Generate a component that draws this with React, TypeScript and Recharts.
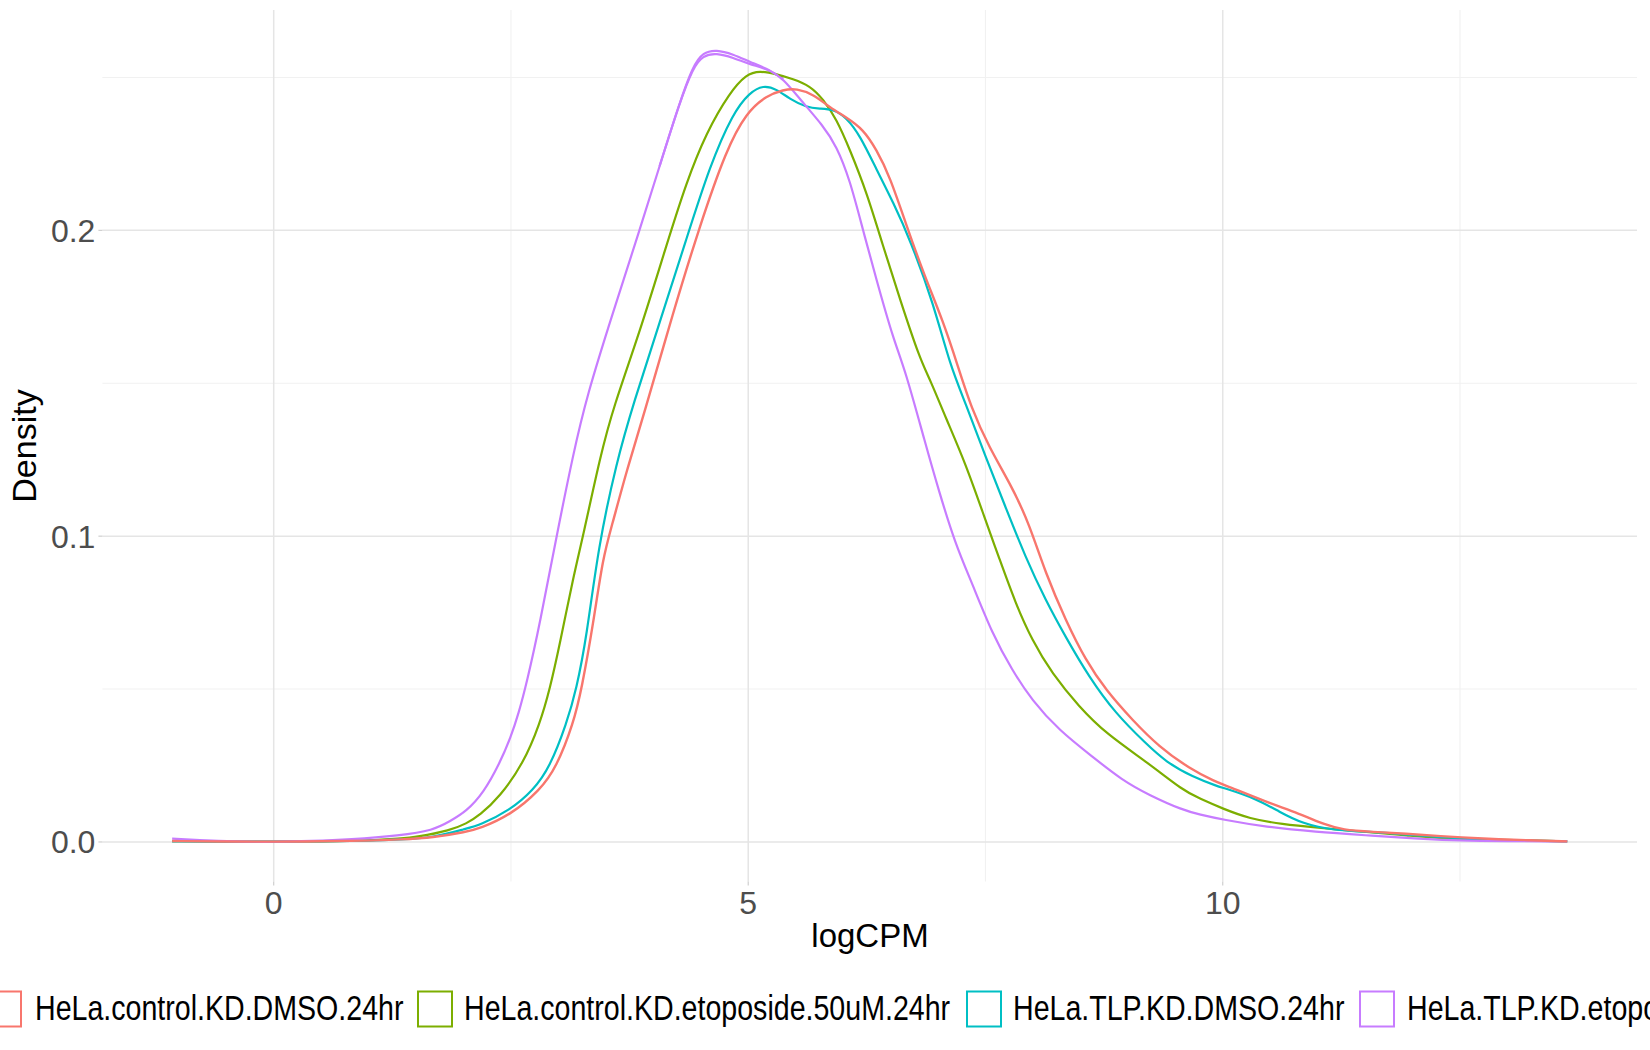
import React from 'react';
import { LineChart, Line, XAxis, YAxis, CartesianGrid } from 'recharts';

// ---------- data ----------
const seriesNames = [
  'HeLa.control.KD.DMSO.24hr',
  'HeLa.control.KD.etoposide.50uM.24hr',
  'HeLa.TLP.KD.DMSO.24hr',
  'HeLa.TLP.KD.etoposide.50uM.24hr',
];
const seriesColors = ['#F8766D', '#7CAE00', '#00BFC4', '#C77CFF'];

const xTicks = [0, 5, 10];
const yTicks = [0, 0.1, 0.2];
const xMinorTicks = [2.5, 7.5, 12.5];
const yMinorTicks = [0.05, 0.15, 0.25];

const xTitle = 'logCPM';
const yTitle = 'Density';

// [logCPM, density]
const controlDmso: [number, number][] = [
  [-1.07, 0.0003], [-0.5, 0.0001], [0, 0.0001], [0.5, 0.0002], [1.0, 0.0004],
  [1.33, 0.0008], [1.68, 0.0014], [2.03, 0.0033], [2.17, 0.0044], [2.49, 0.0087],
  [2.805, 0.0169], [2.98, 0.0245], [3.157, 0.0387], [3.245, 0.05], [3.367, 0.0714],
  [3.47, 0.0932], [3.56, 0.103], [3.72, 0.1216], [3.894, 0.139],
  [4.207, 0.173], [4.488, 0.2014], [4.77, 0.2265], [4.98, 0.2385], [5.19, 0.244],
  [5.37, 0.246], [5.51, 0.2464], [5.685, 0.2445], [5.86, 0.2402], [6.036, 0.2369],
  [6.21, 0.2331], [6.35, 0.2265], [6.49, 0.2178], [6.67, 0.2014], [6.845, 0.1861],
  [7.06, 0.1698], [7.21, 0.1555], [7.35, 0.142], [7.535, 0.1292], [7.78, 0.1161],
  [7.96, 0.1041], [8.134, 0.0878], [8.345, 0.0725], [8.556, 0.0594], [8.77, 0.0496],
  [9.05, 0.0398], [9.33, 0.0311], [9.65, 0.024], [9.93, 0.0196], [10.0, 0.0189],
  [10.456, 0.0131], [10.806, 0.0093], [11.087, 0.0055], [11.26, 0.004], [11.58, 0.0033],
  [11.93, 0.0027], [12.28, 0.0019], [12.73, 0.0011], [13.26, 0.0005], [13.63, 0.0002],
];

const controlEtoposide: [number, number][] = [
  [-1.07, 0.0003], [-0.5, 0.0001], [0, 0.0001], [0.5, 0.0002], [1.0, 0.0004],
  [1.33, 0.0011], [1.51, 0.0016], [1.86, 0.0038], [2.03, 0.006], [2.17, 0.0087],
  [2.38, 0.0147], [2.63, 0.0256], [2.805, 0.0387], [2.91, 0.05], [3.016, 0.0649],
  [3.157, 0.0867], [3.26, 0.1], [3.44, 0.126], [3.58, 0.1423],
  [3.855, 0.1665], [4.136, 0.1949], [4.347, 0.2156], [4.558, 0.232], [4.805, 0.2451],
  [4.98, 0.2511], [5.12, 0.2522], [5.3, 0.2511], [5.47, 0.2495], [5.65, 0.2473],
  [5.79, 0.2429], [5.93, 0.2364], [6.07, 0.2265], [6.25, 0.2123], [6.42, 0.1949],
  [6.6, 0.1774], [6.81, 0.1578], [6.92, 0.151], [7.077, 0.139], [7.29, 0.1238],
  [7.5, 0.1052], [7.64, 0.0932], [7.817, 0.078], [7.99, 0.066], [8.2, 0.0551],
  [8.486, 0.0442], [8.77, 0.0354], [9.225, 0.0256], [9.58, 0.0169], [9.755, 0.0142],
  [10.0, 0.0109], [10.28, 0.0076], [10.63, 0.0058], [10.98, 0.0047], [11.5, 0.0033],
  [11.93, 0.0022], [12.38, 0.0009], [12.91, 0.0008], [13.63, 0.0002],
];

const tlpDmso: [number, number][] = [
  [-1.07, 0.0002], [-0.5, 0.0001], [0, 0.0001], [0.5, 0.0002], [1.0, 0.0004],
  [1.33, 0.0008], [1.68, 0.0014], [2.03, 0.0044], [2.17, 0.0055], [2.49, 0.0104],
  [2.735, 0.0169], [2.91, 0.0245], [3.086, 0.0387], [3.19, 0.05], [3.297, 0.067],
  [3.42, 0.0965], [3.61, 0.124], [3.79, 0.1434], [4.066, 0.1698],
  [4.347, 0.197], [4.594, 0.221], [4.84, 0.2385], [5.016, 0.2451], [5.157, 0.2475],
  [5.3, 0.2462], [5.44, 0.2429], [5.614, 0.2402], [5.755, 0.2398], [5.895, 0.2396],
  [6.036, 0.2369], [6.18, 0.2309], [6.35, 0.22], [6.53, 0.209], [6.705, 0.197],
  [6.95, 0.1763], [7.13, 0.1555], [7.29, 0.1435], [7.5, 0.126], [7.71, 0.1096],
  [7.92, 0.0932], [8.134, 0.079], [8.345, 0.067], [8.59, 0.054], [8.87, 0.042],
  [9.19, 0.0322], [9.4, 0.0262], [9.68, 0.0213], [9.965, 0.018], [10.0, 0.0178],
  [10.35, 0.0142], [10.6, 0.0098], [10.84, 0.006], [11.16, 0.0038], [11.58, 0.0033],
  [12.03, 0.0022], [12.49, 0.0011], [13.0, 0.0005], [13.63, 0.0002],
];

const tlpEtoposide: [number, number][] = [
  [-1.07, 0.0011], [-0.8, 0.0006], [-0.4, 0.0001], [0, 0.0], [0.4, 0.0003],
  [0.8, 0.0008], [1.33, 0.0021], [1.68, 0.0038], [1.86, 0.0068], [2.03, 0.01],
  [2.21, 0.016], [2.38, 0.0256], [2.5, 0.0344], [2.58, 0.042], [2.665, 0.0518],
  [2.805, 0.0714], [2.98, 0.1], [3.157, 0.127], [3.297, 0.1456],
  [3.573, 0.173], [3.855, 0.2], [4.066, 0.221], [4.277, 0.2418], [4.418, 0.2538],
  [4.523, 0.2582], [4.664, 0.2591], [4.84, 0.2576], [5.016, 0.2551], [5.227, 0.2525],
  [5.37, 0.2495], [5.545, 0.2429], [5.79, 0.2342], [5.93, 0.2276], [6.07, 0.2167],
  [6.21, 0.2], [6.35, 0.184], [6.53, 0.1643], [6.655, 0.1543], [6.866, 0.1303],
  [7.007, 0.115], [7.18, 0.0976], [7.36, 0.0845], [7.57, 0.0682], [7.78, 0.0562],
  [7.99, 0.0463], [8.275, 0.0365], [8.63, 0.0278], [8.94, 0.0202], [9.225, 0.0153],
  [9.58, 0.0104], [9.755, 0.009], [10.0, 0.0073], [10.456, 0.0049], [10.98, 0.0033],
  [11.5, 0.0022], [12.03, 0.0011], [12.49, 0.0003], [13.63, 0.0002],
];

// a second, near-identical purple trace that separates only around the peak
const tlpEtoposidePeak: [number, number][] = [
  [4.066, 0.221], [4.277, 0.2418], [4.418, 0.2532], [4.523, 0.2572], [4.664, 0.258],
  [4.84, 0.2565], [5.016, 0.2543], [5.227, 0.2525], [5.37, 0.2495],
];

const seriesData = [controlEtoposide, tlpDmso, tlpEtoposide, controlDmso];
const seriesColorIndex = [1, 2, 3, 0];

// ---------- layout ----------
const W = 1650;
const H = 1050;
const FONT = '"Liberation Sans", Arial, Helvetica, sans-serif';
const xDomain: [number, number] = [-1.805, 14.365];
const yDomain: [number, number] = [-0.01296, 0.27206];

const legendKeyX = [-13, 418, 967, 1360];
const legendTextX = [35, 464, 1013, 1407];
const legendScaleX = 0.817;

const toPoints = (arr: [number, number][]) => arr.map(([x, y]) => ({ x, y }));

export default function App() {
  return (
    <div
      style={{
        position: 'absolute',
        left: 0,
        top: 0,
        width: W,
        height: H,
        overflow: 'hidden',
        background: '#ffffff',
        fontFamily: FONT,
      }}
    >
      <LineChart
        width={W}
        height={H}
        margin={{ top: 10, right: 13, bottom: 98.4, left: 0 }}
      >
        <CartesianGrid
          horizontalValues={yMinorTicks}
          verticalValues={xMinorTicks}
          syncWithTicks
          stroke="#F1F1F1"
          strokeWidth={1.1}
        />
        <CartesianGrid syncWithTicks stroke="#E5E5E5" strokeWidth={1.5} />
        <XAxis
          type="number"
          dataKey="x"
          domain={xDomain}
          ticks={xTicks}
          allowDataOverflow
          axisLine={false}
          tickLine={{ stroke: '#CFCFCF', strokeWidth: 1.2 }}
          tickSize={4}
          tickMargin={6}
          height={70}
          tick={{ fill: '#4D4D4D', fontSize: 32, fontFamily: FONT }}
        />
        <YAxis
          type="number"
          domain={yDomain}
          ticks={yTicks}
          allowDataOverflow
          tickFormatter={(v: number) => v.toFixed(1)}
          axisLine={false}
          tickLine={{ stroke: '#CFCFCF', strokeWidth: 1.2 }}
          tickSize={4}
          tickMargin={3}
          width={102.4}
          tick={{ fill: '#4D4D4D', fontSize: 32, fontFamily: FONT }}
        />
        <Line
          data={toPoints(tlpEtoposidePeak)}
          dataKey="y"
          type="basis"
          stroke={seriesColors[3]}
          strokeWidth={2.2}
          dot={false}
          activeDot={false}
          isAnimationActive={false}
          legendType="none"
        />
        {seriesData.map((arr, i) => (
          <Line
            key={seriesNames[seriesColorIndex[i]]}
            name={seriesNames[seriesColorIndex[i]]}
            data={toPoints(arr)}
            dataKey="y"
            type="basis"
            stroke={seriesColors[seriesColorIndex[i]]}
            strokeWidth={seriesColorIndex[i] === 0 ? 2.4 : 2.2}
            dot={false}
            activeDot={false}
            isAnimationActive={false}
          />
        ))}
      </LineChart>

      <svg
        width={W}
        height={H}
        style={{ position: 'absolute', left: 0, top: 0, pointerEvents: 'none' }}
      >
        <text
          x={870}
          y={947}
          textAnchor="middle"
          fontSize={33}
          fontFamily={FONT}
          fill="#000000"
        >
          {xTitle}
        </text>
        <text
          transform="translate(36,446) rotate(-90)"
          textAnchor="middle"
          fontSize={34}
          fontFamily={FONT}
          fill="#000000"
        >
          {yTitle}
        </text>
        {seriesNames.map((name, i) => (
          <g key={name}>
            <rect
              x={legendKeyX[i]}
              y={991.5}
              width={34}
              height={35}
              fill="#ffffff"
              stroke={seriesColors[i]}
              strokeWidth={2}
            />
            <text
              transform={`translate(${legendTextX[i]},1019.5) scale(${legendScaleX},1)`}
              x={0}
              y={0}
              fontSize={35}
              fontFamily={FONT}
              fill="#000000"
            >
              {name}
            </text>
          </g>
        ))}
      </svg>
    </div>
  );
}
